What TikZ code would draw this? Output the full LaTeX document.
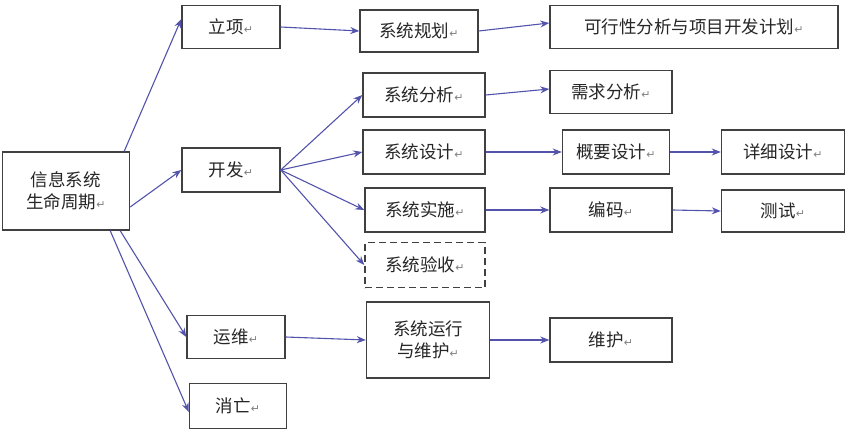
\documentclass[tikz,border=0pt]{standalone}
\usepackage{fontspec}
\setmainfont{Noto Sans CJK SC}
\newfontfamily\symfont{DejaVu Sans}
\usetikzlibrary{arrows.meta,positioning}
\newcommand{\rt}{{\symfont\color{gray}\fontsize{11pt}{11pt}\selectfont ↵}}
\tikzset{
  box/.style={draw=black!75, line width=1.4pt, fill=white, text=black!85, font=\fontsize{17.5pt}{22pt}\selectfont, align=center, inner sep=0pt},
  link/.style={-{Stealth[length=9pt,width=7pt]}, line width=1.1pt, draw=blue!35!gray}
}
\begin{document}
\begin{tikzpicture}[x=1pt,y=-1pt]
    \useasboundingbox (0,0) rectangle (857,433);

    % first column
    \node[box, minimum width=127pt, minimum height=78pt] (root) at (66,191) {信息系统\\生命周期\rt};
    \node[box, minimum width=98pt, minimum height=43pt] (lixiang) at (231,27) {立项\rt};
    \node[box, minimum width=98pt, minimum height=44pt] (kaifa) at (231,170) {开发\rt};
    \node[box, minimum width=98pt, minimum height=43pt] (yunwei) at (236,337) {运维\rt};
    \node[box, minimum width=97pt, minimum height=45pt] (xiaowang) at (238,406) {消亡\rt};

    % second column
    \node[box, minimum width=118pt, minimum height=42pt] (guihua) at (419,31) {系统规划\rt};
    \node[box, minimum width=122pt, minimum height=44pt] (fenxi) at (424,95) {系统分析\rt};
    \node[box, minimum width=122pt, minimum height=44pt] (sheji) at (424,152) {系统设计\rt};
    \node[box, minimum width=120pt, minimum height=44pt] (shishi) at (425,210) {系统实施\rt};
    \node[box, dash pattern=on 7pt off 4pt, minimum width=120pt, minimum height=45pt] (yanshou) at (425,265) {系统验收\rt};
    \node[box, minimum width=123pt, minimum height=76pt] (yunxing) at (428,340) {系统运行\\与维护\rt};

    % third column
    \node[box, minimum width=288pt, minimum height=43pt] (kexing) at (694,27) {可行性分析与项目开发计划\rt};
    \node[box, minimum width=122pt, minimum height=43pt] (xuqiu) at (611,92) {需求分析\rt};
    \node[box, minimum width=107pt, minimum height=44pt] (gaiyao) at (616,152) {概要设计\rt};
    \node[box, minimum width=122pt, minimum height=44pt] (bianma) at (611,210) {编码\rt};
    \node[box, minimum width=122pt, minimum height=44pt] (weihu) at (611,340) {维护\rt};

    % fourth column
    \node[box, minimum width=123pt, minimum height=44pt] (xiangxi) at (783,152) {详细设计\rt};
    \node[box, minimum width=123pt, minimum height=42pt] (ceshi) at (783,211) {测试\rt};

    % root fan
    \draw[link] ([xshift=-6pt]root.north east) -- ([yshift=8pt]lixiang.west);
    \draw[link] ([yshift=-16pt]root.east) -- (kaifa.west);
    \draw[link] ([xshift=-10pt]root.south east) -- (yunwei.west);
    \draw[link] ([xshift=-20pt]root.south east) -- ([yshift=-6pt]xiaowang.west);

    % kaifa fan
    \draw[link] (kaifa.east) -- (fenxi.west);
    \draw[link] (kaifa.east) -- (sheji.west);
    \draw[link] (kaifa.east) -- (shishi.west);
    \draw[link] (kaifa.east) -- (yanshou.west);

    % chains
    \draw[link] (lixiang.east) -- (guihua.west);
    \draw[link] (guihua.east) -- ([yshift=4pt]kexing.west);
    \draw[link] (fenxi.east) -- ([yshift=3pt]xuqiu.west);
    \draw[link] (sheji.east) -- (gaiyao.west);
    \draw[link] (gaiyao.east) -- (xiangxi.west);
    \draw[link] (shishi.east) -- (bianma.west);
    \draw[link] (bianma.east) -- (ceshi.west);
    \draw[link] (yunwei.east) -- (yunxing.west);
    \draw[link] (yunxing.east) -- (weihu.west);
\end{tikzpicture}
\end{document}
